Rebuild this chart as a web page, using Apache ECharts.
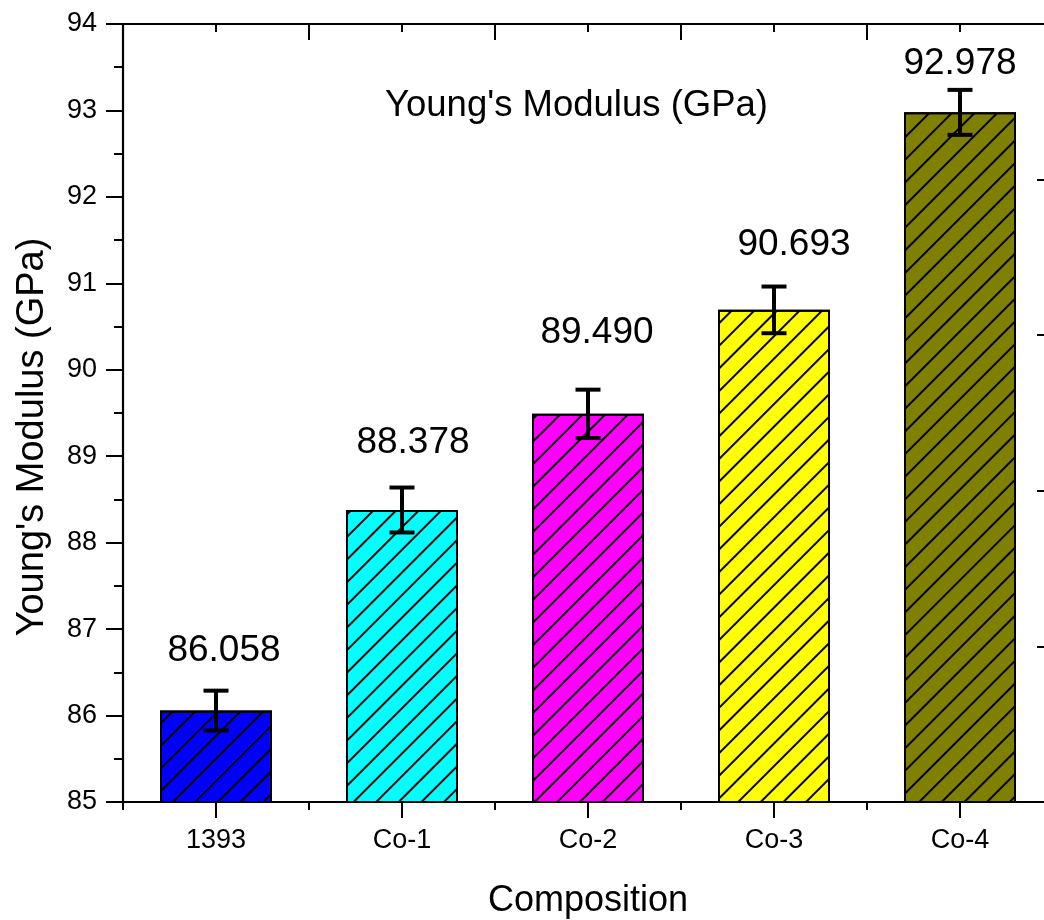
<!DOCTYPE html>
<html>
<head>
<meta charset="utf-8">
<script src="https://cdn.jsdelivr.net/npm/echarts@6/dist/echarts.min.js"></script>
<style>
html,body{margin:0;padding:0;background:#fff;overflow:hidden;}
#chart{width:1044px;height:920px;}
</style>
</head>
<body>
<div id="chart"></div>
<script>
// ---- data ----
const categories = ['1393', 'Co-1', 'Co-2', 'Co-3', 'Co-4'];
const modulus = [86.058, 88.378, 89.490, 90.693, 92.978];
const errors = [0.23, 0.26, 0.28, 0.27, 0.26];
const yTicks = [85, 86, 87, 88, 89, 90, 91, 92, 93, 94];

// ---- style ----
const barColors = ['#0000FF', '#00FFFF', '#FF00FF', '#FFFF00', '#808000'];
const labelDx = [8, 11, 9, 20, 0];
const labelDy = [-40, -45, -57, -42, -26];
const FONT = '"Liberation Sans", Arial, sans-serif';

const chart = echarts.init(document.getElementById('chart'));

const hatch = {
  symbol: 'rect', symbolSize: 1,
  dashArrayX: [1, 0], dashArrayY: [1.3, 14],
  rotation: -Math.PI / 4, color: '#000'
};

const barData = modulus.map((v, i) => ({
  value: v,
  itemStyle: { color: barColors[i], borderColor: '#000', borderWidth: 2, decal: hatch }
}));

const errData = modulus.map((v, i) => [i, v, errors[i]]);

const axisLine = { show: true, lineStyle: { color: '#000', width: 2.2 } };

chart.setOption({
  animation: false,
  backgroundColor: '#fff',
  title: {
    text: "Young's Modulus (GPa)",
    left: 380, top: 82,
    textStyle: { fontFamily: FONT, fontSize: 36.5, fontWeight: 'normal', color: '#000' }
  },
  graphic: [{
    type: 'text',
    x: 33, y: 437, rotation: Math.PI / 2,
    style: {
      text: "Young's Modulus (GPa)",
      fontFamily: FONT, fontSize: 38, fill: '#000',
      align: 'center', verticalAlign: 'middle'
    }
  }],
  grid: { left: 123, top: 24, width: 930, height: 778, outerBoundsMode: 'none' },
  xAxis: [
    {
      type: 'category', data: categories, position: 'bottom',
      axisLine: axisLine,
      axisTick: { show: true, alignWithLabel: true, length: 16, lineStyle: { color: '#000', width: 2 } },
      axisLabel: { fontFamily: FONT, fontSize: 27, color: '#000', margin: 25 },
      name: 'Composition', nameLocation: 'middle', nameGap: 81,
      nameTextStyle: { fontFamily: FONT, fontSize: 36, color: '#000' }
    },
    {
      type: 'category', data: categories, position: 'bottom',
      axisLine: { show: false },
      axisTick: { show: true, length: 8, lineStyle: { color: '#000', width: 2 } },
      axisLabel: { show: false }
    },
    {
      type: 'category', data: categories, position: 'top',
      axisLine: axisLine,
      axisTick: { show: true, inside: true, length: 16, lineStyle: { color: '#000', width: 2 } },
      axisLabel: { show: false }
    },
    {
      type: 'category', data: categories, position: 'top',
      axisLine: { show: false },
      axisTick: { show: true, inside: true, alignWithLabel: true, length: 8, lineStyle: { color: '#000', width: 2 } },
      axisLabel: { show: false }
    }
  ],
  yAxis: [
    {
      type: 'value', min: yTicks[0], max: yTicks[yTicks.length - 1], interval: 1,
      position: 'left',
      axisLine: axisLine,
      axisTick: { show: true, length: 17, lineStyle: { color: '#000', width: 2 } },
      minorTick: { show: true, splitNumber: 2, length: 9, lineStyle: { color: '#000', width: 2 } },
      splitLine: { show: false },
      axisLabel: { fontFamily: FONT, fontSize: 27, color: '#000', margin: 26 }
    },
    {
      type: 'value', min: 0, max: 5, interval: 1, position: 'right',
      axisLine: axisLine,
      axisTick: { show: true, inside: true, length: 16, lineStyle: { color: '#000', width: 2 } },
      minorTick: { show: true, splitNumber: 2, length: 8, lineStyle: { color: '#000', width: 2 } },
      splitLine: { show: false },
      axisLabel: { show: false }
    }
  ],
  series: [
    {
      type: 'bar', xAxisIndex: 0, yAxisIndex: 0,
      barWidth: 112,
      data: barData
    },
    {
      type: 'custom', xAxisIndex: 0, yAxisIndex: 0,
      data: errData,
      encode: { x: 0, y: 1 },
      z: 10,
      renderItem: function (params, api) {
        const i = api.value(0), v = api.value(1), e = api.value(2);
        const top = api.coord([i, v + e]);
        const bot = api.coord([i, v - e]);
        const hw = 12.5;
        const ls = { stroke: '#000', lineWidth: 4 };
        return {
          type: 'group',
          children: [
            { type: 'line', shape: { x1: top[0], y1: top[1], x2: bot[0], y2: bot[1] }, style: ls },
            { type: 'line', shape: { x1: top[0] - hw, y1: top[1], x2: top[0] + hw, y2: top[1] }, style: ls },
            { type: 'line', shape: { x1: bot[0] - hw, y1: bot[1], x2: bot[0] + hw, y2: bot[1] }, style: ls },
            {
              type: 'text',
              x: top[0] + labelDx[params.dataIndex],
              y: top[1] + labelDy[params.dataIndex],
              style: {
                text: modulus[params.dataIndex].toFixed(3),
                fontFamily: FONT, fontSize: 37, fill: '#000',
                align: 'center', verticalAlign: 'middle'
              }
            }
          ]
        };
      }
    }
  ]
});
</script>
</body>
</html>
